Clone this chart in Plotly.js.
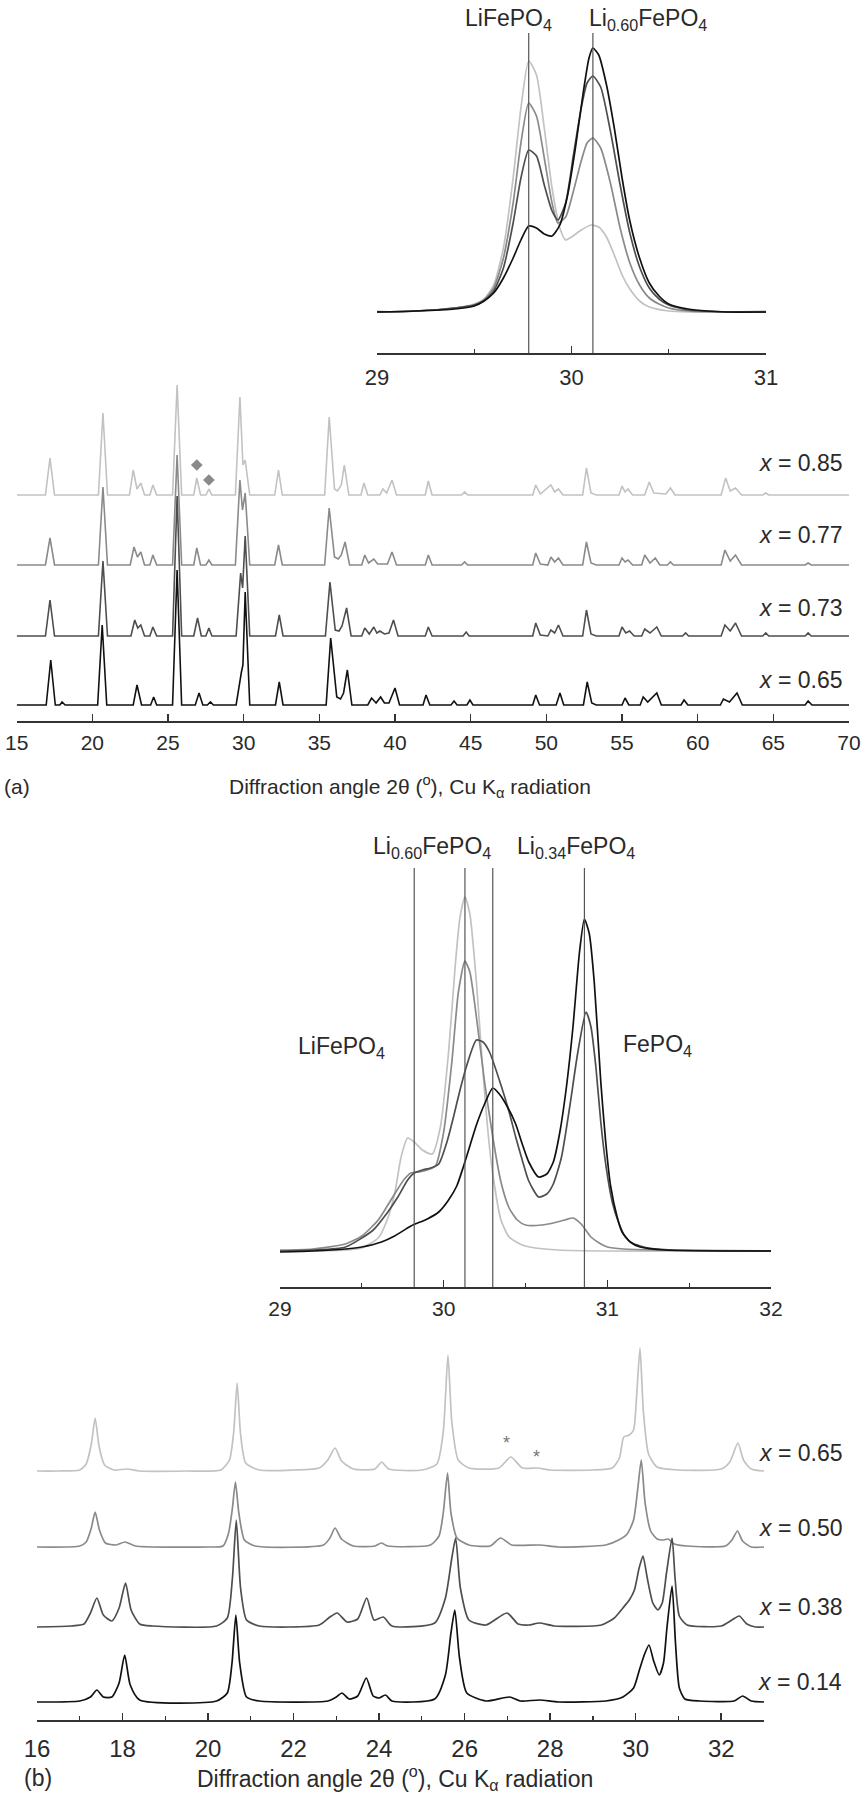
<!DOCTYPE html>
<html>
<head>
<meta charset="utf-8">
<script src="https://cdn.plot.ly/plotly-3.0.1.min.js"></script>
<style>html,body{margin:0;padding:0;background:#fff;}#chart{width:867px;height:1800px;}</style>
</head>
<body>
<div id="chart"></div>
<script>
// ---------------- DATA (2θ in degrees, intensity in arbitrary units) ----------------
// Panel (a) main patterns, x = 0.85, 0.77, 0.73, 0.65
const a085 = [[15,0],[16.9,0],[17.2,37],[17.5,0],[20.4,0],[20.7,82],[21.0,0],[22.45,0],[22.7,25],[22.95,6],[23.2,12],[23.45,0],[23.8,0],[24.0,10],[24.25,0],[25.3,0],[25.6,110],[25.9,0],[26.7,0],[26.9,17],[27.15,0],[27.5,0],[27.7,6],[27.9,0],[29.45,0],[29.75,98],[29.95,30],[30.1,35],[30.4,0],[32.05,0],[32.3,25],[32.55,0],[35.35,0],[35.65,78],[36.0,6],[36.2,4],[36.45,10],[36.65,30],[36.95,0],[37.75,0],[37.95,12],[38.2,0],[39.0,0],[39.2,6],[39.45,2],[39.8,15],[40.1,0],[42.0,0],[42.2,14],[42.45,0],[44.4,0],[44.6,3],[44.8,0],[49.1,0],[49.3,10],[49.6,1],[50.3,10],[50.55,3],[50.8,6],[51.1,0],[52.4,0],[52.65,27],[52.95,2],[53.3,0],[54.8,0],[55.0,9],[55.2,3],[55.4,6],[55.7,0],[56.5,0],[56.8,13],[57.1,2],[57.9,1],[58.2,7],[58.5,0],[61.55,0],[61.85,17],[62.15,4],[62.5,7],[62.9,0],[64.3,0],[64.5,2],[64.7,0],[70,0]];
const a077 = [[15,0],[16.9,0],[17.2,27],[17.5,0],[20.4,0],[20.7,78],[21.0,0],[22.5,0],[22.75,18],[22.98,8],[23.2,13],[23.45,0],[23.8,0],[24.0,10],[24.25,0],[25.3,0],[25.6,110],[25.9,0],[26.7,0],[26.9,17],[27.15,0],[27.5,0],[27.7,5],[27.9,0],[29.45,0],[29.75,85],[29.92,55],[30.1,72],[30.4,0],[32.05,0],[32.3,20],[32.55,0],[35.35,0],[35.65,57],[36.0,8],[36.25,6],[36.45,10],[36.7,23],[37.0,0],[37.8,0],[38.0,10],[38.25,2],[38.6,6],[38.85,1],[39.5,1],[39.8,13],[40.1,0],[42.0,0],[42.2,10],[42.45,0],[44.4,0],[44.6,3],[44.8,0],[49.1,0],[49.3,12],[49.6,1],[50.1,0],[50.3,8],[50.55,3],[50.8,7],[51.1,0],[52.4,0],[52.65,23],[52.95,2],[53.3,0],[54.8,0],[55.0,7],[55.2,3],[55.4,5],[55.7,0],[56.3,0],[56.5,10],[56.85,2],[57.2,7],[57.5,0],[58.0,0],[58.2,3],[58.4,0],[61.55,0],[61.8,15],[62.15,4],[62.5,10],[62.9,0],[67.1,0],[67.3,2],[67.5,0],[70,0]];
const a073 = [[15,0],[16.9,0],[17.2,36],[17.5,0],[20.4,0],[20.7,75],[21.0,0],[22.55,0],[22.8,16],[23.0,8],[23.2,11],[23.45,0],[23.8,0],[24.0,9],[24.25,0],[25.3,0],[25.6,140],[25.9,0],[26.7,0],[26.95,18],[27.2,0],[27.5,0],[27.7,8],[27.9,0],[29.5,0],[29.8,63],[29.93,48],[30.1,100],[30.4,0],[32.1,0],[32.35,21],[32.6,0],[35.4,0],[35.7,54],[36.05,6],[36.3,5],[36.5,10],[36.8,28],[37.1,0],[37.8,0],[38.0,8],[38.3,2],[38.6,9],[38.8,3],[39.0,5],[39.3,2],[39.6,3],[39.9,16],[40.2,0],[42.0,0],[42.2,9],[42.45,0],[44.5,0],[44.7,4],[44.9,0],[49.1,0],[49.3,13],[49.6,1],[50.1,0],[50.3,6],[50.55,3],[50.8,11],[51.1,0],[52.4,0],[52.65,26],[52.95,2],[53.3,0],[54.8,0],[55.0,9],[55.25,3],[55.5,5],[55.8,0],[56.3,0],[56.5,7],[56.85,3],[57.3,9],[57.6,0],[59.0,0],[59.2,3],[59.4,0],[61.55,0],[61.8,11],[62.15,5],[62.5,13],[62.9,0],[64.3,0],[64.5,3],[64.7,0],[67.1,0],[67.3,3],[67.5,0],[70,0]];
const a065 = [[15,0],[16.95,0],[17.25,45],[17.55,0],[17.85,0],[18.0,3],[18.2,0],[20.35,0],[20.65,80],[20.95,0],[22.7,0],[22.95,20],[23.25,0],[23.85,0],[24.05,8],[24.25,0],[25.3,0],[25.6,135],[25.9,0],[26.8,0],[27.05,12],[27.3,0],[27.6,0],[27.8,3],[28.0,0],[29.5,0],[29.85,33],[29.95,40],[30.1,113],[30.4,0],[32.1,0],[32.35,23],[32.6,0],[35.45,0],[35.75,67],[36.15,8],[36.4,6],[36.6,12],[36.85,35],[37.15,0],[38.2,0],[38.45,7],[38.75,2],[39.05,8],[39.3,2],[39.6,2],[40.0,17],[40.3,0],[41.85,0],[42.05,10],[42.3,0],[43.7,0],[43.9,4],[44.1,0],[44.75,0],[44.95,5],[45.15,0],[49.1,0],[49.3,10],[49.55,0],[50.65,0],[50.9,12],[51.15,0],[52.45,0],[52.7,23],[53.0,2],[53.3,0],[55.0,0],[55.2,7],[55.45,0],[56.2,0],[56.4,8],[56.7,3],[57.3,12],[57.6,0],[58.9,0],[59.1,5],[59.35,0],[61.5,0],[61.7,6],[62.1,3],[62.6,12],[62.95,0],[67.1,0],[67.3,4],[67.55,0],[70,0]];
const aLabels = ["x = 0.85","x = 0.77","x = 0.73","x = 0.65"];
const aImpurity = [[26.9, 30],[27.7, 15]];   // starred impurity peaks on x = 0.85 (2θ, height above its trace)

// Panel (a) inset, 29–31°
const ia085 = [[29.0,2],[29.1,1],[29.2,2],[29.3,3],[29.4,5],[29.5,9],[29.55,14],[29.6,28],[29.65,65],[29.7,135],[29.74,205],[29.78,252],[29.82,238],[29.86,185],[29.9,125],[29.94,85],[29.97,73],[30.0,76],[30.05,83],[30.1,88],[30.14,86],[30.18,76],[30.22,58],[30.26,38],[30.3,24],[30.35,12],[30.4,6],[30.5,2],[30.6,1],[30.8,1],[31.0,2]];
const ia077 = [[29.0,1],[29.2,2],[29.4,5],[29.5,8],[29.55,13],[29.6,25],[29.65,55],[29.7,110],[29.74,170],[29.78,210],[29.82,197],[29.86,155],[29.9,110],[29.93,90],[29.97,96],[30.01,122],[30.05,152],[30.08,170],[30.11,175],[30.15,165],[30.2,130],[30.25,85],[30.3,50],[30.35,28],[30.4,15],[30.45,9],[30.5,5],[30.6,2],[30.8,1],[31.0,1]];
const ia073 = [[29.0,1],[29.2,2],[29.4,5],[29.5,8],[29.55,12],[29.6,22],[29.65,45],[29.7,90],[29.74,135],[29.78,163],[29.82,157],[29.86,128],[29.9,102],[29.93,93],[29.97,110],[30.01,158],[30.05,205],[30.08,230],[30.11,237],[30.15,226],[30.2,182],[30.25,128],[30.3,80],[30.35,46],[30.4,25],[30.45,14],[30.5,8],[30.6,3],[30.8,1],[31.0,1]];
const ia065 = [[29.0,1],[29.2,2],[29.4,4],[29.5,7],[29.55,12],[29.6,20],[29.65,35],[29.7,55],[29.74,73],[29.78,87],[29.82,85],[29.86,79],[29.9,77],[29.94,88],[29.98,118],[30.02,165],[30.06,220],[30.09,255],[30.11,265],[30.14,258],[30.18,228],[30.22,185],[30.26,135],[30.3,92],[30.35,55],[30.4,30],[30.45,17],[30.5,9],[30.6,4],[30.7,2],[30.8,1],[31.0,1]];
const iaRefs = [29.78, 30.11];
const iaRefLabels = ["LiFePO<sub>4</sub>", "Li<sub>0.60</sub>FePO<sub>4</sub>"];

// Panel (b) main patterns, x = 0.65, 0.50, 0.38, 0.14
const b065 = [[16,1],[16.5,1],[17.0,2],[17.15,8],[17.27,28],[17.36,54],[17.45,26],[17.58,7],[17.8,2],[18.1,3],[18.4,1],[19.5,1],[20.3,2],[20.5,12],[20.6,40],[20.68,89],[20.76,38],[20.88,9],[21.2,2],[22.0,2],[22.6,4],[22.8,12],[22.97,24],[23.12,11],[23.4,3],[23.9,3],[24.06,10],[24.22,3],[25.0,2],[25.35,8],[25.5,40],[25.61,117],[25.7,50],[25.85,12],[26.1,4],[26.8,4],[27.08,15],[27.35,4],[27.7,4],[28.0,2],[29.0,2],[29.45,4],[29.62,14],[29.72,35],[29.85,37],[29.95,42],[30.02,75],[30.1,124],[30.18,60],[30.3,18],[30.5,5],[31.0,2],[32.0,3],[32.2,10],[32.39,29],[32.52,12],[32.7,3],[33.0,1]];
const b050 = [[16,1],[17.0,2],[17.15,6],[17.27,20],[17.36,36],[17.46,18],[17.6,5],[17.85,3],[18.06,6],[18.3,2],[20.0,1],[20.35,2],[20.48,15],[20.57,40],[20.64,66],[20.72,35],[20.85,8],[21.1,2],[22.7,3],[22.85,10],[22.97,20],[23.12,9],[23.4,2],[23.9,2],[24.05,5],[24.2,2],[25.2,3],[25.4,12],[25.5,35],[25.6,75],[25.68,35],[25.82,10],[26.1,3],[26.6,2],[26.84,10],[27.1,3],[27.76,3],[28.2,1],[29.3,3],[29.6,8],[29.8,14],[29.95,28],[30.05,60],[30.13,88],[30.22,45],[30.35,17],[30.5,9],[30.65,8],[30.76,9],[30.9,4],[31.2,2],[32.1,2],[32.25,8],[32.38,17],[32.5,7],[32.7,1],[33,1]];
const b038 = [[16,1],[16.8,2],[17.1,4],[17.25,15],[17.4,30],[17.55,13],[17.75,7],[17.92,20],[18.07,45],[18.2,18],[18.4,4],[18.7,2],[20.2,2],[20.45,10],[20.57,50],[20.66,108],[20.76,40],[20.9,8],[21.2,2],[22.6,3],[22.85,11],[23.02,15],[23.25,6],[23.5,9],[23.71,30],[23.88,8],[24.1,11],[24.3,2],[25.3,5],[25.55,30],[25.7,70],[25.79,90],[25.9,40],[26.1,8],[26.5,3],[26.99,15],[27.25,4],[27.5,3],[27.75,5],[28.1,2],[29.2,3],[29.5,10],[29.7,20],[29.85,28],[29.97,38],[30.08,60],[30.17,72],[30.27,50],[30.4,25],[30.52,18],[30.62,25],[30.72,55],[30.85,90],[30.92,50],[31.02,12],[31.2,3],[32.0,2],[32.25,8],[32.42,12],[32.6,4],[32.8,1],[33,1]];
const b014 = [[16,1],[17.0,2],[17.25,6],[17.4,13],[17.55,6],[17.75,6],[17.92,20],[18.05,48],[18.18,18],[18.4,3],[20.2,2],[20.45,10],[20.56,40],[20.65,88],[20.74,40],[20.9,6],[21.2,2],[22.8,2],[23.0,6],[23.13,10],[23.3,4],[23.5,7],[23.7,25],[23.86,7],[24.0,5],[24.15,8],[24.3,2],[25.3,4],[25.55,28],[25.68,70],[25.77,93],[25.88,45],[26.05,10],[26.5,2],[27.05,6],[27.3,2],[27.75,3],[28.2,1],[29.3,2],[29.7,6],[29.95,15],[30.1,35],[30.2,48],[30.31,58],[30.42,42],[30.55,28],[30.65,40],[30.73,75],[30.85,117],[30.93,60],[31.02,15],[31.15,4],[31.5,2],[32.3,2],[32.5,7],[32.7,2],[33,1]];
const bLabels = ["x = 0.65","x = 0.50","x = 0.38","x = 0.14"];
const bImpurity = [[26.99, 29],[27.69, 15]];

// Panel (b) inset, 29–32°
const ib065 = [[29.0,1],[29.2,1],[29.4,2],[29.5,4],[29.6,14],[29.65,30],[29.7,58],[29.74,95],[29.78,114],[29.82,110],[29.87,102],[29.93,98],[29.98,125],[30.03,200],[30.07,285],[30.1,335],[30.13,355],[30.16,338],[30.2,270],[30.24,180],[30.28,105],[30.31,67],[30.35,32],[30.4,15],[30.48,7],[30.56,4],[30.7,2],[31.0,1],[31.5,1],[32.0,1]];
const ib050 = [[29.0,2],[29.2,3],[29.4,8],[29.5,16],[29.6,32],[29.7,58],[29.76,73],[29.8,79],[29.85,80],[29.9,82],[29.95,86],[30.0,120],[30.05,190],[30.09,260],[30.13,291],[30.16,280],[30.2,235],[30.25,170],[30.3,115],[30.35,70],[30.4,44],[30.45,32],[30.5,27],[30.6,27],[30.67,29],[30.74,32],[30.79,34],[30.84,28],[30.9,15],[30.95,9],[31.0,5],[31.1,3],[31.3,2],[32.0,1]];
const ib038 = [[29.0,1],[29.2,2],[29.4,5],[29.57,22],[29.65,38],[29.72,55],[29.78,72],[29.82,79],[29.87,82],[29.92,84],[29.97,88],[30.02,110],[30.06,135],[30.1,162],[30.14,186],[30.2,212],[30.24,210],[30.28,200],[30.35,167],[30.4,140],[30.44,115],[30.48,92],[30.52,71],[30.58,55],[30.63,58],[30.67,68],[30.72,95],[30.77,145],[30.82,200],[30.87,240],[30.9,225],[30.93,185],[30.96,130],[30.99,88],[31.03,50],[31.07,29],[31.11,15],[31.15,9],[31.25,4],[31.4,2],[32.0,1]];
const ib014 = [[29.0,0],[29.2,1],[29.4,3],[29.5,5],[29.62,10],[29.7,16],[29.8,26],[29.9,33],[29.97,40],[30.03,52],[30.08,66],[30.12,85],[30.16,106],[30.2,127],[30.25,148],[30.3,164],[30.34,158],[30.39,145],[30.44,128],[30.48,108],[30.52,90],[30.58,75],[30.63,78],[30.67,90],[30.71,120],[30.75,165],[30.79,225],[30.83,300],[30.86,333],[30.89,318],[30.92,270],[30.96,170],[30.99,110],[31.02,66],[31.06,35],[31.09,20],[31.14,10],[31.2,5],[31.35,2],[32.0,1]];
const ibRefs = [29.82, 30.13, 30.30, 30.86];
const ibRefLabels = ["Li<sub>0.60</sub>FePO<sub>4</sub>", "Li<sub>0.34</sub>FePO<sub>4</sub>", "LiFePO<sub>4</sub>", "FePO<sub>4</sub>"];

const axisTitle = "Diffraction angle 2θ (<sup>o</sup>), Cu K<sub>α</sub> radiation";

// ---------------- STYLE / LAYOUT ----------------
const W = 867, H = 1800;
const FONT = "Liberation Sans, Arial, Helvetica, sans-serif";
const TXT = "#2a2a2a";
const greys = ["#c2c2c2", "#8a8a8a", "#4e4e4e", "#111111"];
const px = v => v / W, py = v => 1 - v / H;

// vertical stacking offsets (pixels above each axis line)
const offA = [226, 156, 85, 16];
const offIA = 40;
const offB = [248, 172, 92, 17];
const offIB = 35;

function tr(pairs, off, color, xa, ya, shape, width) {
  return {
    type: "scatter", mode: "lines", xaxis: xa, yaxis: ya, hoverinfo: "skip", showlegend: false,
    x: pairs.map(p => p[0]), y: pairs.map(p => p[1] + off),
    line: {color: color, width: width || 1.6, shape: shape || "linear", smoothing: 0.6}
  };
}

const traces = [];
[a085, a077, a073, a065].forEach((d, i) => traces.push(tr(d, offA[i], greys[i], "x", "y", "linear", 1.6)));
[ia085, ia077, ia073, ia065].forEach((d, i) => traces.push(tr(d, offIA, greys[i], "x2", "y2", "spline", 1.7)));
[b065, b050, b038, b014].forEach((d, i) => traces.push(tr(d, offB[i], greys[i], "x3", "y3", "spline", 1.7)));
[ib065, ib050, ib038, ib014].forEach((d, i) => traces.push(tr(d, offIB, greys[i], "x4", "y4", "spline", 1.7)));

// impurity markers on panel (a) top trace
traces.push({type: "scatter", mode: "markers", xaxis: "x", yaxis: "y", hoverinfo: "skip", showlegend: false,
  x: aImpurity.map(p => p[0]), y: aImpurity.map(p => p[1] + offA[0]),
  marker: {symbol: "diamond", size: 9, color: "#8a8a8a"}});

function xax(domain, range, dtick, minor, fs, standoff, anchor) {
  const o = {
    domain: domain, range: range, anchor: anchor, dtick: dtick, tick0: range[0],
    showline: true, linecolor: "#333", linewidth: 2, mirror: false,
    ticks: "inside", ticklen: 7, tickwidth: 1.5, tickcolor: "#333",
    showgrid: false, zeroline: false, fixedrange: true,
    tickfont: {family: FONT, size: fs, color: TXT}, ticklabelstandoff: standoff
  };
  if (minor) o.minor = {dtick: minor, ticks: "inside", ticklen: 4, tickwidth: 1.2, tickcolor: "#333", showgrid: false};
  return o;
}
function yax(domain, range, anchor) {
  return {domain: domain, range: range, anchor: anchor, visible: false, fixedrange: true};
}

const layout = {
  width: W, height: H, margin: {l: 0, r: 0, t: 0, b: 0},
  paper_bgcolor: "#fff", plot_bgcolor: "rgba(0,0,0,0)", showlegend: false,
  font: {family: FONT, color: TXT},
  xaxis:  xax([px(16.7), px(849)], [15, 70], 5, null, 21, 2, "y"),
  yaxis:  yax([py(721), py(370)], [0, 351], "x"),
  xaxis2: xax([px(377), px(766)], [29, 31], 1, 0.5, 22, 4, "y2"),
  yaxis2: yax([py(353), py(25)], [0, 328], "x2"),
  xaxis3: xax([px(37), px(764)], [16, 33], 2, 1, 24, 6, "y3"),
  yaxis3: yax([py(1720), py(1340)], [0, 380], "x3"),
  xaxis4: xax([px(280), px(771)], [29, 32], 1, 0.5, 21, 2, "y4"),
  yaxis4: yax([py(1287), py(865)], [0, 422], "x4"),
  shapes: [], annotations: []
};

iaRefs.forEach(v => layout.shapes.push({type: "line", xref: "x2", yref: "y2", x0: v, x1: v, y0: 0, y1: 320, line: {color: "#555", width: 1.2}}));
ibRefs.forEach(v => layout.shapes.push({type: "line", xref: "x4", yref: "y4", x0: v, x1: v, y0: 0, y1: 419, line: {color: "#555", width: 1.2}}));

function ann(text, x, y, size, xanchor, extra) {
  return Object.assign({xref: "paper", yref: "paper", x: px(x), y: py(y), text: text, showarrow: false,
    xanchor: xanchor || "center", yanchor: "middle", font: {family: FONT, size: size, color: TXT}}, extra || {});
}
const italicX = s => s.replace(/^x/, "<i>x</i>");

// panel (a) labels
const aLabY = [463, 535, 608, 680];
aLabels.forEach((s, i) => layout.annotations.push(ann(italicX(s), 844, aLabY[i], 23, "right")));
layout.annotations.push(ann(iaRefLabels[0], 509, 20, 23));
layout.annotations.push(ann(iaRefLabels[1], 648, 20, 23));
layout.annotations.push(ann(axisTitle, 410, 787, 21));
layout.annotations.push(ann("(a)", 2, 787, 21, "left"));

// panel (b) labels
const bLabY = [1453, 1528, 1607, 1682];
bLabels.forEach((s, i) => layout.annotations.push(ann(italicX(s), 844, bLabY[i], 23, "right")));
layout.annotations.push(ann(ibRefLabels[0], 432, 847, 23));
layout.annotations.push(ann(ibRefLabels[1], 576, 847, 23));
layout.annotations.push(ann(ibRefLabels[2], 341, 1047, 23));
layout.annotations.push(ann(ibRefLabels[3], 657, 1045, 23));
layout.annotations.push(ann(axisTitle, 395, 1778, 23));
layout.annotations.push(ann("(b)", 22, 1778, 23, "left"));
// starred impurity peaks in (b)
bImpurity.forEach(p => layout.annotations.push({xref: "x3", yref: "y3", x: p[0], y: p[1] + offB[0], text: "*", showarrow: false,
  xanchor: "center", yanchor: "middle", font: {family: FONT, size: 18, color: "#777"}}));

Plotly.newPlot("chart", traces, layout, {staticPlot: true, displayModeBar: false});
</script>
</body>
</html>
